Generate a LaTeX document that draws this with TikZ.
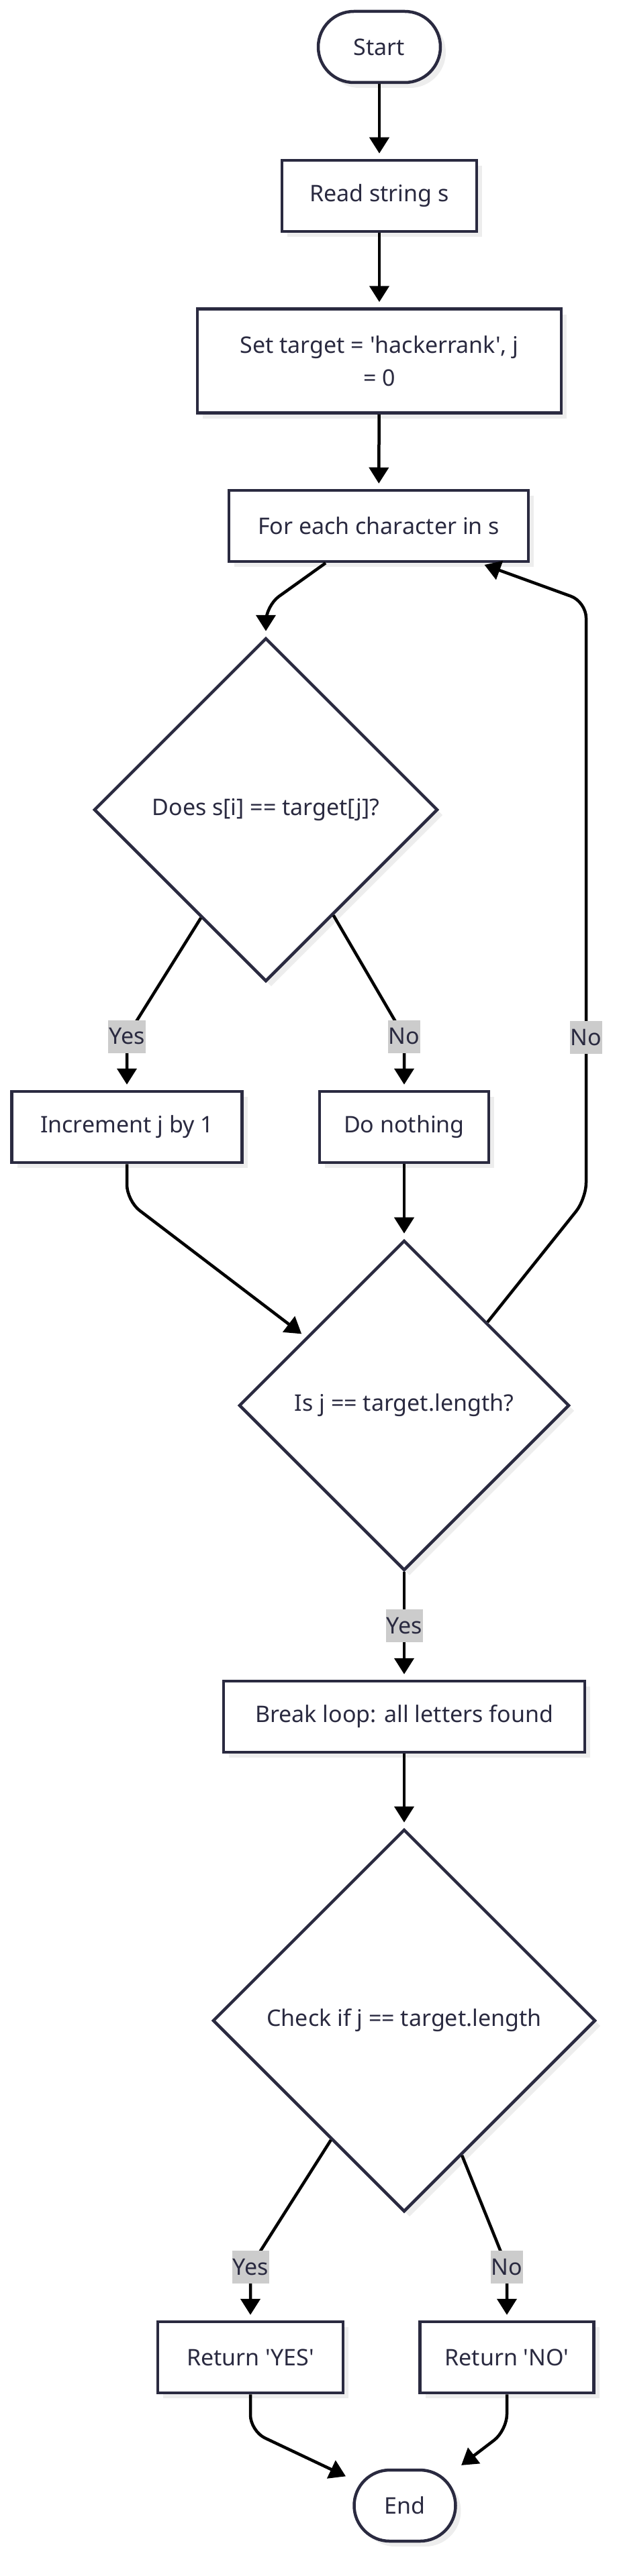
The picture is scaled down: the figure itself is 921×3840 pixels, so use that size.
\documentclass[tikz,border=0pt]{standalone}
\usepackage{fontspec}
\setmainfont{Noto Sans}
\usetikzlibrary{calc,positioning,shapes.geometric,arrows.meta,shadows}
\definecolor{mmink}{HTML}{2A2A40}
\definecolor{mmlabel}{HTML}{CCCCCC}
\newcommand{\squote}{\textquotesingle}

\begin{document}
\begin{tikzpicture}[x=1pt,y=-1pt,
  every node/.style={font=\fontsize{34}{49}\selectfont, text=mmink},
  nodeshadow/.style={drop shadow={shadow xshift=8pt, shadow yshift=-8pt, fill=black!7, opacity=1}},
  proc/.style={rectangle, draw=mmink, line width=4.5pt, fill=white, nodeshadow, minimum height=106pt, inner sep=0pt, align=center},
  term/.style={proc, rounded corners=53pt},
  cond/.style={diamond, aspect=1, draw=mmink, line width=4.5pt, fill=white, nodeshadow, inner sep=0pt},
  lbl/.style={sharp corners, fill=mmlabel, inner xsep=1pt, inner ysep=0pt, minimum height=49pt},
  flow/.style={line width=4.5pt, -{Triangle[length=24pt,width=29pt]}, shorten >=8pt, rounded corners=24pt}]
\useasboundingbox (0,0) rectangle (921,3840);
\node[term, minimum width=182pt] (start) at (565,70) {Start};
\node[proc, minimum width=290pt] (read) at (565,292) {Read string s};
\node[proc, minimum width=542pt, minimum height=155pt] (set) at (565,538) {Set target = \squote hackerrank\squote, j\\= 0};
\node[proc, minimum width=446pt] (each) at (564,784) {For each character in s};
\node[cond, minimum width=512pt, minimum height=512pt] (does) at (396,1207) {Does s[i] == target[j]?};
\node[proc, minimum width=343pt] (inc) at (189,1680) {Increment j by 1};
\node[proc, minimum width=252pt] (nothing) at (602,1680) {Do nothing};
\node[cond, minimum width=492pt, minimum height=492pt] (islen) at (602,2095) {Is j == target.length?};
\node[proc, minimum width=538pt] (brk) at (602,2559) {Break loop: all letters found};
\node[cond, minimum width=570pt, minimum height=570pt] (check) at (602,3012) {Check if j == target.length};
\node[proc, minimum width=276pt] (ryes) at (373,3514) {Return \squote YES\squote};
\node[proc, minimum width=259pt] (rno) at (755,3514) {Return \squote NO\squote};
\node[term, minimum width=151pt] (stop) at (603,3735) {End};
\draw[flow] (start) -- (read);
\draw[flow] (read) -- (set);
\draw[flow] (set) -- (each);
\draw[flow] ([xshift=-79pt]each.south) -- (396,903) -- (does.north);
\draw[flow] ($(does.west)!.625!(does.south)$) -- (189,1545) node[lbl]{Yes} -- (inc);
\draw[flow] ($(does.south)!.39!(does.east)$) -- (602,1545) node[lbl]{No} -- (nothing);
\draw[flow] (inc) -- (189,1790) -- ($(islen.west)!.41!(islen.north)$);
\draw[flow] (nothing) -- (islen);
\draw[flow] (islen.north east) -- (873,1787) -- node[lbl, pos=.27]{No} (873,897) -- ([xshift=150pt]each.south);
\draw[flow] (islen) -- node[lbl]{Yes} (brk);
\draw[flow] (brk) -- (check);
\draw[flow] ($(check.west)!.62!(check.south)$) -- (373,3379) node[lbl]{Yes} -- (ryes);
\draw[flow] ($(check.south)!.3!(check.east)$) -- (755,3379) node[lbl]{No} -- (rno);
\draw[flow] (ryes) -- (373,3624) -- ([shift={(-3,15)}]stop.north west);
\draw[flow] (rno) -- (755,3623) -- (stop.north east);
\end{tikzpicture}
\end{document}
